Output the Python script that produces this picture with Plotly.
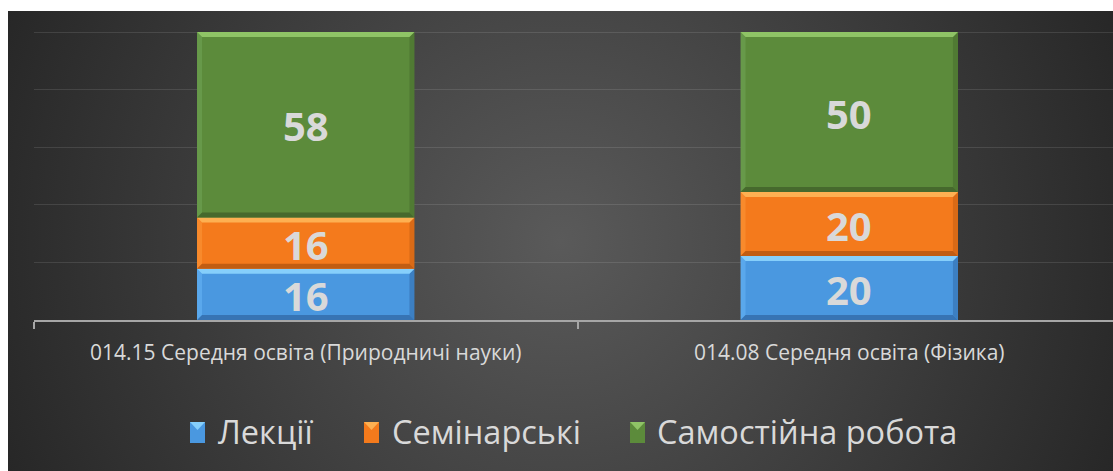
import plotly.graph_objects as go
from urllib.parse import quote

# Data
categories = ["014.15 Середня освіта (Природничі науки)", "014.08 Середня освіта (Фізика)"]
series_names = ["Лекції", "Семінарські", "Самостійна робота"]
lectures = [16, 20]
seminars = [16, 20]
self_study = [58, 50]
series_values = [lectures, seminars, self_study]

# Styling
face = ["#4a98e0", "#f47a1c", "#5c8b3b"]
bevel_top = ["#86cffb", "#fdb052", "#8fc466"]
bevel_bottom = ["#3774b4", "#c15d12", "#46692d"]
bevel_left = ["#5aa8ec", "#f88a2c", "#67994a"]
bevel_right = ["#3c7fc2", "#d96a16", "#507a33"]
text_color = "#d9d9d9"
font_family = "Open Sans, DejaVu Sans, sans-serif"

W, H = 1113, 471
M_L, M_R, M_T, M_B = 34, 0, 28, 151
PLOT_W = W - M_L - M_R
PLOT_H = H - M_T - M_B
PX_PER_CAT = 543.5
PX_PER_UNIT = 3.2
Y_MAX = 90
Y_TOP = PLOT_H / PX_PER_UNIT
BAR_W = 0.4
x_range = [-0.5, -0.5 + PLOT_W / PX_PER_CAT]

x_pos = list(range(len(categories)))

fig = go.Figure()
for name, vals, col in zip(series_names, series_values, face):
    fig.add_trace(go.Bar(
        x=x_pos, y=vals, name=name, width=BAR_W,
        marker=dict(color=col, line=dict(width=0)),
        showlegend=False, hoverinfo="skip",
    ))

# Bevel edges and value labels for each stacked segment
shapes = []
annotations = []
bev = 5.0
dx = bev / PX_PER_CAT
dy = bev / PX_PER_UNIT
for ci, xc in enumerate(x_pos):
    base = 0
    for si, vals in enumerate(series_values):
        v = vals[ci]
        x0, x1 = xc - BAR_W / 2, xc + BAR_W / 2
        y0, y1 = base, base + v
        polys = [
            (bevel_left[si], [(x0, y0), (x0 + dx, y0 + dy), (x0 + dx, y1 - dy), (x0, y1)]),
            (bevel_right[si], [(x1, y0), (x1 - dx, y0 + dy), (x1 - dx, y1 - dy), (x1, y1)]),
            (bevel_bottom[si], [(x0, y0), (x1, y0), (x1 - dx, y0 + dy), (x0 + dx, y0 + dy)]),
            (bevel_top[si], [(x0, y1), (x1, y1), (x1 - dx, y1 - dy), (x0 + dx, y1 - dy)]),
        ]
        for col, pts in polys:
            path = "M " + " L ".join(f"{px:.6f},{py:.6f}" for px, py in pts) + " Z"
            shapes.append(dict(type="path", path=path, xref="x", yref="y",
                               fillcolor=col, line=dict(width=0), layer="above"))
        annotations.append(dict(
            x=xc, y=base + v / 2, xref="x", yref="y", text=str(v), showarrow=False,
            yshift=-1,
            font=dict(family=font_family, size=40, color=text_color, weight="bold"),
        ))
        base += v


def to_paper_x(px):
    return (px - M_L) / PLOT_W


def to_paper_y(py):
    return (M_T + PLOT_H - py) / PLOT_H


# Legend drawn as swatches plus text
legend_swatch_x = [190, 364, 630]
legend_text_x = [216, 390, 655]
SW_W = 15
legend_y_top, legend_y_bot = 422, 443
for i, name in enumerate(series_names):
    sx0, sx1 = legend_swatch_x[i], legend_swatch_x[i] + SW_W
    shapes.append(dict(type="rect", xref="paper", yref="paper",
                       x0=to_paper_x(sx0), x1=to_paper_x(sx1),
                       y0=to_paper_y(legend_y_bot), y1=to_paper_y(legend_y_top),
                       fillcolor=face[i], line=dict(width=0), layer="above"))
    shapes.append(dict(type="path", xref="paper", yref="paper",
                       path=(f"M {to_paper_x(sx0)},{to_paper_y(legend_y_top)} "
                             f"L {to_paper_x(sx1)},{to_paper_y(legend_y_top)} "
                             f"L {to_paper_x((sx0 + sx1) / 2)},{to_paper_y(legend_y_top + 8)} Z"),
                       fillcolor=bevel_top[i], line=dict(width=0), layer="above"))
    annotations.append(dict(
        x=to_paper_x(legend_text_x[i]), y=to_paper_y((legend_y_top + legend_y_bot) / 2 - 1),
        xref="paper", yref="paper", xanchor="left", yanchor="middle",
        text=name, showarrow=False,
        font=dict(family=font_family, size=32.5, color=text_color),
    ))

# Dark radial background for the chart area
BG_X0, BG_Y0 = 8, 11
bg_w, bg_h = W - BG_X0, H - BG_Y0
svg = (
    f'<svg xmlns="http://www.w3.org/2000/svg" width="{bg_w}" height="{bg_h}" '
    f'viewBox="0 0 {bg_w} {bg_h}" preserveAspectRatio="none">'
    '<defs><radialGradient id="g" gradientUnits="userSpaceOnUse" '
    f'cx="{bg_w / 2}" cy="{bg_h / 2}" r="600">'
    '<stop offset="0" stop-color="#5a5a5a"/>'
    '<stop offset="1" stop-color="#272727"/>'
    '</radialGradient></defs>'
    f'<rect width="{bg_w}" height="{bg_h}" fill="url(#g)"/></svg>'
)
bg_src = "data:image/svg+xml;charset=utf-8," + quote(svg)

fig.update_layout(
    width=W, height=H,
    margin=dict(l=M_L, r=M_R, t=M_T, b=M_B, pad=0),
    paper_bgcolor="white",
    plot_bgcolor="rgba(0,0,0,0)",
    barmode="stack",
    shapes=shapes,
    annotations=annotations,
    images=[dict(source=bg_src, xref="paper", yref="paper",
                 x=to_paper_x(BG_X0), y=to_paper_y(BG_Y0),
                 sizex=bg_w / PLOT_W, sizey=bg_h / PLOT_H,
                 xanchor="left", yanchor="top", sizing="stretch", layer="below")],
    xaxis=dict(
        range=x_range, tickmode="array", tickvals=x_pos, ticktext=categories,
        ticks="", showgrid=False, zeroline=False,
        showline=True, linecolor="#a6a6a6", linewidth=2,
        tickfont=dict(family=font_family, size=21, color=text_color),
        ticklabelstandoff=13,
        minor=dict(tickmode="array", tickvals=[-0.5, 0.5, 1.5], ticks="outside",
                   ticklen=7, tickwidth=2, tickcolor="#a6a6a6", showgrid=False),
        fixedrange=True,
    ),
    yaxis=dict(
        range=[0, Y_TOP], tickmode="array", tickvals=[0, 18, 36, 54, 72, 90],
        showticklabels=False, ticks="",
        showgrid=True, gridcolor="rgba(255,255,255,0.11)", gridwidth=1,
        zeroline=False, showline=False, fixedrange=True,
    ),
    showlegend=False,
)

fig.write_html("out.html", config={"displayModeBar": False})
